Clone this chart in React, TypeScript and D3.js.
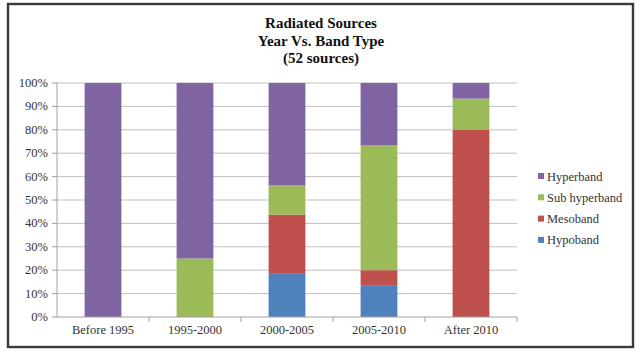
import React from "react";
import * as d3 from "d3";

const categories = ["Before 1995", "1995-2000", "2000-2005", "2005-2010", "After 2010"];
const seriesNames = ["Hypoband", "Mesoband", "Sub hyperband", "Hyperband"];
const hypoband = [0, 0, 18.75, 13.33, 0];
const mesoband = [0, 0, 25, 6.67, 80];
const subHyperband = [0, 25, 12.5, 53.33, 13.33];
const hyperband = [100, 75, 43.75, 26.67, 6.67];
const yTicks = [0, 10, 20, 30, 40, 50, 60, 70, 80, 90, 100];
const titleLines = ["Radiated Sources", "Year Vs. Band Type", "(52 sources)"];
const colors = ["#4F81BD", "#C0504D", "#9BBB59", "#8064A2"];
const legendOrder = ["Hyperband", "Sub hyperband", "Mesoband", "Hypoband"];

export default function App() {
  const W = 643, H = 357;
  const left = 57, right = 517, top = 83, bottom = 317;
  const x = d3.scaleBand<string>().domain(categories).range([left, right]).paddingInner(0.6).paddingOuter(0.3);
  const xb = d3.scaleBand<string>().domain(categories).range([left, right]);
  const y = d3.scaleLinear().domain([0, 100]).range([bottom, top]);
  const table = categories.map((c, i) => ({
    cat: c,
    Hypoband: hypoband[i],
    Mesoband: mesoband[i],
    "Sub hyperband": subHyperband[i],
    Hyperband: hyperband[i],
  }));
  const stacked = d3.stack<any>().keys(seriesNames)(table);
  const font = "'Liberation Serif', 'Times New Roman', serif";
  return (
    <svg width={W} height={H} style={{ position: "absolute", left: 0, top: 0, background: "#fff", fontFamily: font }}>
      <rect x={8} y={4} width={625} height={343} fill="#fff" stroke="#3a3a3a" strokeWidth={2.4} />
      {titleLines.map((t, i) => (
        <text key={t} x={321} y={28 + i * 17.7} textAnchor="middle" fontSize={15} fontWeight="bold" fill="#111">
          {t}
        </text>
      ))}
      {yTicks.map((t) => (
        <g key={t}>
          {t > 0 && <line x1={left} x2={right} y1={y(t)} y2={y(t)} stroke="#BFBFBF" strokeWidth={1} />}
          <line x1={left - 5} x2={left} y1={y(t)} y2={y(t)} stroke="#A0A0A0" strokeWidth={1} />
          <text x={left - 9} y={y(t) + 4} textAnchor="end" fontSize={12.5} fill="#333">
            {t}%
          </text>
        </g>
      ))}
      <line x1={left} x2={left} y1={top} y2={bottom} stroke="#A0A0A0" strokeWidth={1} />
      {stacked.map((s, si) => (
        <g key={s.key} fill={colors[si]}>
          {s.map((d, i) =>
            d[1] - d[0] > 0 ? (
              <rect key={i} x={x(categories[i])} width={x.bandwidth()} y={y(d[1])} height={y(d[0]) - y(d[1])} />
            ) : null
          )}
        </g>
      ))}
      <line x1={left} x2={right} y1={bottom} y2={bottom} stroke="#A0A0A0" strokeWidth={1} />
      {categories.map((c) => (
        <g key={c}>
          <line x1={(xb(c) as number) + xb.bandwidth()} x2={(xb(c) as number) + xb.bandwidth()} y1={bottom} y2={bottom + 5} stroke="#A0A0A0" />
          <text x={(xb(c) as number) + xb.bandwidth() / 2} y={bottom + 17} textAnchor="middle" fontSize={12.5} fill="#333">
            {c}
          </text>
        </g>
      ))}
      {legendOrder.map((n, i) => (
        <g key={n}>
          <rect x={538} y={173 + i * 21.3} width={6} height={6} fill={colors[seriesNames.indexOf(n)]} />
          <text x={547} y={180.5 + i * 21.3} fontSize={12.5} fill="#333">
            {n}
          </text>
        </g>
      ))}
    </svg>
  );
}
